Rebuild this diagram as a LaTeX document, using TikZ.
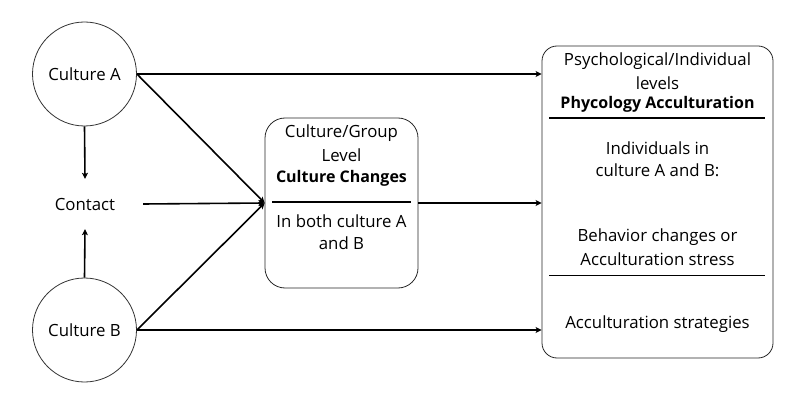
\documentclass[tikz,border=0pt]{standalone}
\usepackage{fontspec}
\setmainfont{Open Sans}
\usetikzlibrary{arrows.meta}
\begin{document}
\begin{tikzpicture}[x=1pt,y=-1pt,
  circ/.style={circle,draw=black!80,line width=0.8pt,minimum size=104pt,inner sep=0pt,font=\fontsize{16.8}{18}\selectfont},
  box/.style={draw=black!85,line width=0.8pt,inner sep=0pt},
  txt/.style={inner sep=0pt,font=\fontsize{16.8}{18}\selectfont},
  btxt/.style={inner sep=0pt,font=\fontsize{16}{18}\selectfont\bfseries},
  arr/.style={line width=1.6pt,-{Stealth[length=6pt,width=6pt,inset=1.5pt]}},
  sep/.style={line width=1.5pt}
]
\useasboundingbox (0,0) rectangle (803,406);
\node[circ] (A) at (84.5,74) {Culture A};
\node[circ] (B) at (84.5,330) {Culture B};
\node[txt,minimum width=116pt,minimum height=50pt] (C) at (85,204) {Contact};
\node[box,rounded corners=20pt,minimum width=153pt,minimum height=170pt] (M) at (341.5,203) {};
\node[box,rounded corners=15pt,minimum width=231pt,minimum height=312pt] (R) at (657.5,202) {};
% middle texts
\node[txt] (m1) at (341.5,133) {Culture/Group};
\node[txt] (m2) at (341.5,155) {Level};
\node[btxt] (m3) at (341.5,178) {Culture Changes};
\node[txt] (m4) at (341.5,221) {In both culture A};
\node[txt] (m5) at (341.5,243) {and B};
\coordinate (ml1) at (272,202);
\coordinate (ml2) at (411,202);
\draw[sep] (ml1) -- (ml2);
% right texts
\node[txt] (r1) at (657.5,61) {Psychological/Individual};
\node[txt] (r2) at (657.5,83) {levels};
\node[btxt] (r3) at (657.5,104) {Phycology Acculturation};
\coordinate (rl1) at (549,118);
\coordinate (rl2) at (765,118);
\draw[sep] (rl1) -- (rl2);
\node[txt] (r4) at (657.5,148) {Individuals in};
\node[txt] (r5) at (657.5,170) {culture A and B:};
\node[txt] (r6) at (657.5,237) {Behavior changes or};
\node[txt] (r7) at (657.5,259) {Acculturation stress};
\coordinate (rl3) at (549,275);
\coordinate (rl4) at (765,275);
\draw[line width=0.9pt] (rl3) -- (rl4);
\node[txt] (r8) at (657.5,324) {Acculturation strategies};
% connectors
\draw[arr] (A.south) -- (C.north);
\draw[arr] (B.north) -- (C.south);
\draw[arr] (C.east) -- (M.west);
\draw[arr] (A.east) -- (M.west);
\draw[arr] (B.east) -- (M.west);
\draw[arr] (A.east) -- (R.west |- A.east);
\draw[arr] (B.east) -- (R.west |- B.east);
\draw[arr] (M.east) -- (R.west |- M.east);
\end{tikzpicture}
\end{document}
